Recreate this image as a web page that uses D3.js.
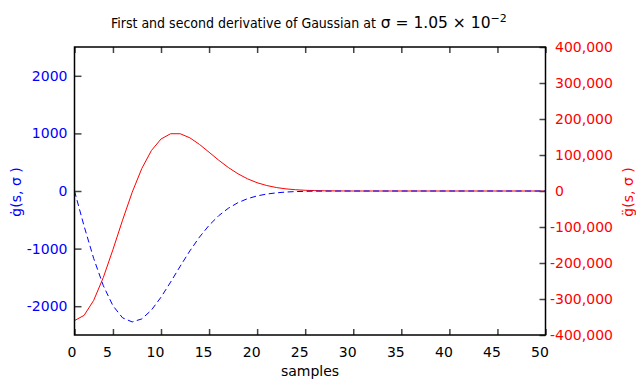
<!DOCTYPE html>
<html>
<head>
<meta charset="utf-8">
<script src="https://cdn.jsdelivr.net/npm/d3@7"></script>
<style>
  html, body { margin: 0; padding: 0; background: #fff; }
  svg { display: block; }
  text { font-family: "DejaVu Sans", sans-serif; }
</style>
</head>
<body>
<svg id="chart" width="636" height="379"></svg>
<script>
// ---- data ----
const samples = [1,2,3,4,5,6,7,8,9,10,11,12,13,14,15,16,17,18,19,20,21,22,23,24,25,
                 26,27,28,29,30,31,32,33,34,35,36,37,38,39,40,41,42,43,44,45,46,47,48,49,50];
const firstDerivative = [0,-611,-1173,-1644,-1992,-2202,-2273,-2221,-2068,-1844,-1581,-1305,-1040,-801,-596,
                         -429,-300,-203,-133,-85,-53,-32,-18,-10,-6,-3,-2,-1,0,0,
                         0,0,0,0,0,0,0,0,0,0,0,0,0,0,0,0,0,0,0,0];
const secondDerivative = [-360000,-345400,-303600,-240100,-162800,-81100,-3600,62400,112400,144400,
                          159100,159000,147700,129400,107700,85600,65300,47900,33800,23000,
                          15200,9600,5900,3500,2000,1100,600,300,150,0,
                          0,0,0,0,0,0,0,0,0,0,0,0,0,0,0,0,0,0,0,0];
const xTickValues = [1,5,10,15,20,25,30,35,40,45,50];
const xTickLabels = ["0","5","10","15","20","25","30","35","40","45","50"];
const leftTickValues = [-2000,-1000,0,1000,2000];
const leftTickLabels = ["-2000","-1000","0","1000","2000"];
const rightTickValues = [-400000,-300000,-200000,-100000,0,100000,200000,300000,400000];
const rightTickLabels = ["-400,000","-300,000","-200,000","-100,000","0","100,000","200,000","300,000","400,000"];
const titleText = "First and second derivative of Gaussian at";
const titleMath = "\u03C3 = 1.05 \u00D7  10";
const titleExp = "\u22122";
const xLabel = "samples";
const leftLabel = "\u0121(s, \u03C3 )";
const rightLabel = "g\u0308(s, \u03C3 )";

// ---- layout ----
const L = 74.5, R = 545.5, T = 47, B = 335;
const BLUE = "#0000ff", RED = "#ff0000";
const svg = d3.select("#chart");

const x = d3.scaleLinear().domain([1, 50]).range([L, R]);
const yL = d3.scaleLinear().domain([-2500, 2500]).range([B, T]);
const yR = d3.scaleLinear().domain([-400000, 400000]).range([B, T]);

// lines
const lineRed = d3.line().x((d, i) => x(samples[i])).y(d => yR(d));
const lineBlue = d3.line().x((d, i) => x(samples[i])).y(d => yL(d));

svg.append("path").datum(secondDerivative)
  .attr("d", lineRed).attr("fill", "none").attr("stroke", RED).attr("stroke-width", 1);
svg.append("path").datum(firstDerivative)
  .attr("d", lineBlue).attr("fill", "none").attr("stroke", BLUE).attr("stroke-width", 1)
  .attr("stroke-dasharray", "6,3.5");

// axes
const tickColor = "#444";
function styleAxis(g) {
  g.select(".domain").remove();
  g.selectAll(".tick line").attr("stroke", tickColor).attr("stroke-width", 1.5);
  g.selectAll("text").attr("font-family", "DejaVu Sans").attr("font-size", 14);
}

const gx = svg.append("g").attr("transform", `translate(0,${B})`)
  .call(d3.axisBottom(x).tickValues(xTickValues).tickFormat((d, i) => xTickLabels[i])
    .tickSizeInner(-6).tickSizeOuter(0).tickPadding(12));
styleAxis(gx);
gx.selectAll("text").attr("fill", "#000").attr("dx", (d, i) => i === 0 ? -3 : -6);

const gxt = svg.append("g").attr("transform", `translate(0,${T})`)
  .call(d3.axisTop(x).tickValues(xTickValues).tickFormat("").tickSizeInner(-6).tickSizeOuter(0));
styleAxis(gxt);

const gl = svg.append("g").attr("transform", `translate(${L},0)`)
  .call(d3.axisLeft(yL).tickValues(leftTickValues).tickFormat((d, i) => leftTickLabels[i])
    .tickSizeInner(-7).tickSizeOuter(0).tickPadding(7));
styleAxis(gl);
gl.selectAll("text").attr("fill", BLUE);

const gr = svg.append("g").attr("transform", `translate(${R},0)`)
  .call(d3.axisRight(yR).tickValues(rightTickValues).tickFormat((d, i) => rightTickLabels[i])
    .tickSizeInner(-6).tickSizeOuter(0).tickPadding(9.5));
styleAxis(gr);
gr.selectAll("text").attr("fill", RED).attr("dx", (d) => d < 0 ? -5 : 0);

// frame
svg.append("rect").attr("x", L).attr("y", T).attr("width", R - L).attr("height", B - T)
  .attr("fill", "none").attr("stroke", "#000").attr("stroke-width", 1.5);

// title
const title = svg.append("text").attr("x", 111).attr("y", 28).attr("fill", "#000");
title.append("tspan").text(titleText)
  .attr("font-family", "DejaVu Sans Condensed, DejaVu Sans").attr("font-stretch", "condensed")
  .attr("font-size", 14);
title.append("tspan").text(" " + titleMath).attr("font-family", "DejaVu Sans").attr("font-size", 15.5);
title.append("tspan").text(titleExp).attr("font-family", "DejaVu Sans").attr("font-size", 11)
  .attr("dy", -6.5);

// axis labels
svg.append("text").attr("x", (L + R) / 2).attr("y", 376).attr("text-anchor", "middle")
  .attr("font-size", 14).attr("fill", "#000").text(xLabel);
svg.append("text").attr("transform", `translate(20.5,192) rotate(-90)`).attr("text-anchor", "middle")
  .attr("font-size", 14).attr("fill", BLUE).text(leftLabel);
svg.append("text").attr("transform", `translate(632.5,192) rotate(-90)`).attr("text-anchor", "middle")
  .attr("font-size", 14).attr("fill", RED).text(rightLabel);
</script>
</body>
</html>
